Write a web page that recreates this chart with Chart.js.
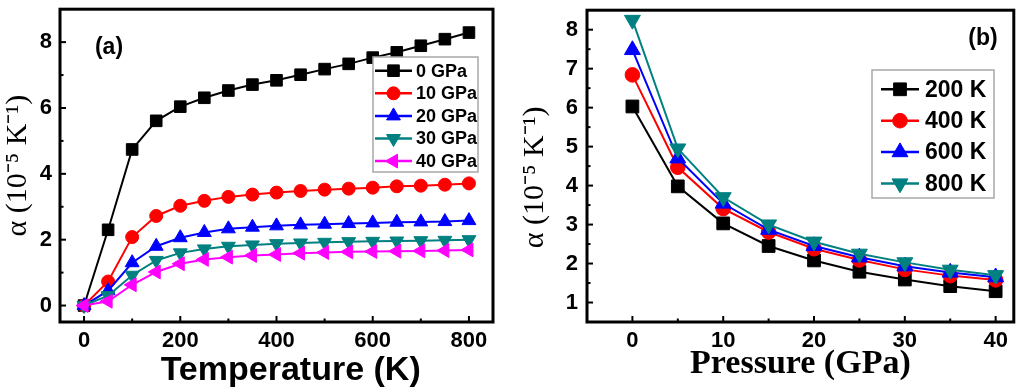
<!DOCTYPE html>
<html><head><meta charset="utf-8">
<script src="https://cdn.jsdelivr.net/npm/chart.js@4/dist/chart.umd.min.js"></script>
<style>
html,body{margin:0;padding:0;background:#fff;}
#wrap{position:relative;width:1024px;height:390px;overflow:hidden;}
canvas{position:absolute;top:0;}
#ca{left:0;} #cb{left:512px;}
</style></head><body>
<div id="wrap"><canvas id="ca" width="512" height="390"></canvas><canvas id="cb" width="512" height="390"></canvas></div>
<script>
// ---------- data: panel (a) ----------
const temperatures = [0,50,100,150,200,250,300,350,400,450,500,550,600,650,700,750,800];
const alpha0GPa  = [0, 2.3, 4.74, 5.61, 6.04, 6.31, 6.53, 6.71, 6.84, 7.01, 7.18, 7.34, 7.53, 7.69, 7.89, 8.09, 8.29];
const alpha10GPa = [0, 0.73, 2.08, 2.72, 3.03, 3.18, 3.30, 3.37, 3.43, 3.48, 3.52, 3.55, 3.58, 3.62, 3.64, 3.67, 3.71];
const alpha20GPa = [0, 0.45, 1.30, 1.80, 2.06, 2.22, 2.33, 2.38, 2.42, 2.45, 2.47, 2.49, 2.51, 2.53, 2.54, 2.55, 2.58];
const alpha30GPa = [0, 0.30, 0.92, 1.37, 1.60, 1.72, 1.80, 1.84, 1.88, 1.90, 1.92, 1.94, 1.95, 1.96, 1.97, 1.98, 2.00];
const alpha40GPa = [0, 0.13, 0.63, 1.02, 1.27, 1.40, 1.47, 1.52, 1.55, 1.59, 1.61, 1.63, 1.64, 1.65, 1.66, 1.67, 1.69];
const seriesLabelsA = ['0 GPa','10 GPa','20 GPa','30 GPa','40 GPa'];
const tempTicks = [0,200,400,600,800];
const tempMinorTicks = [100,300,500,700];
const alphaTicksA = [0,2,4,6,8];
const alphaMinorTicksA = [1,3,5,7];

// ---------- data: panel (b) ----------
const pressures = [0,5,10,15,20,25,30,35,40];
const alpha200K = [6.03, 3.98, 3.03, 2.45, 2.08, 1.79, 1.59, 1.42, 1.29];
const alpha400K = [6.84, 4.47, 3.41, 2.81, 2.38, 2.09, 1.85, 1.69, 1.58];
const alpha600K = [7.48, 4.70, 3.54, 2.87, 2.45, 2.16, 1.93, 1.77, 1.65];
const alpha800K = [8.25, 4.95, 3.70, 3.00, 2.56, 2.25, 2.03, 1.84, 1.70];
const seriesLabelsB = ['200 K','400 K','600 K','800 K'];
const pressureTicks = [0,10,20,30,40];
const pressureMinorTicks = [5,15,25,35];
const alphaTicksB = [1,2,3,4,5,6,7,8];
const alphaMinorTicksB = [1.5,2.5,3.5,4.5,5.5,6.5,7.5];

const yTitle = 'α (10⁻⁵ K⁻¹)';

Chart.defaults.font.family = "'Liberation Sans', Arial, sans-serif";
Chart.defaults.color = '#000';

function marker(ctx, style, rot, r, x, y, color) {
  ctx.save();
  ctx.fillStyle = color; ctx.strokeStyle = color; ctx.lineWidth = 1;
  ctx.beginPath();
  if (style === 'rect') { const s = Math.SQRT1_2 * r; ctx.rect(x - s, y - s, 2 * s, 2 * s); }
  else if (style === 'circle') { ctx.arc(x, y, r, 0, 2 * Math.PI); }
  else {
    let rad = (rot || 0) * Math.PI / 180;
    for (let k = 0; k < 3; k++) {
      const px = x + Math.sin(rad) * r, py = y - Math.cos(rad) * r;
      if (k) ctx.lineTo(px, py); else ctx.moveTo(px, py);
      rad += 2 * Math.PI / 3;
    }
    ctx.closePath();
  }
  ctx.fill(); ctx.stroke(); ctx.restore();
}

const frameTicks = {
  id: 'frameTicks',
  afterDraw(chart, args, o) {
    const {ctx, chartArea: a, scales} = chart;
    ctx.save();
    ctx.strokeStyle = '#000';
    ctx.lineWidth = 2;
    const tick = (scale, vals, len) => {
      vals.forEach(v => {
        const p = scale.getPixelForValue(v);
        ctx.beginPath();
        if (scale.isHorizontal()) { ctx.moveTo(p, a.bottom); ctx.lineTo(p, a.bottom - len); }
        else { ctx.moveTo(a.left, p); ctx.lineTo(a.left + len, p); }
        ctx.stroke();
      });
    };
    tick(scales.x, o.xMajor, 6); tick(scales.x, o.xMinor, 3.5);
    tick(scales.y, o.yMajor, 6); tick(scales.y, o.yMinor, 3.5);
    ctx.lineWidth = 3;
    ctx.strokeRect(a.left, a.top, a.right - a.left, a.bottom - a.top);
    // panel label
    ctx.fillStyle = '#000';
    ctx.font = o.labelFont; ctx.textAlign = 'center'; ctx.textBaseline = 'middle';
    ctx.fillText(o.label, o.labelX, o.labelY);
    // legend
    const L = o.legend;
    ctx.fillStyle = '#fff';
    ctx.fillRect(L.left, L.top, L.width, L.height);
    ctx.strokeStyle = '#a8a8a8'; ctx.lineWidth = 1.5;
    ctx.strokeRect(L.left, L.top, L.width, L.height);
    ctx.font = L.font; ctx.textAlign = 'left'; ctx.textBaseline = 'middle';
    chart.data.datasets.forEach((ds, i) => {
      const y = L.rowY + i * L.rowStep;
      ctx.strokeStyle = ds.borderColor; ctx.lineWidth = 2.5;
      ctx.beginPath(); ctx.moveTo(L.lineX, y); ctx.lineTo(L.lineX + L.lineLen, y); ctx.stroke();
      marker(ctx, ds.pointStyle, ds.pointRotation, ds.pointRadius, L.lineX + L.lineLen / 2, y, ds.borderColor);
      ctx.fillStyle = '#000';
      ctx.fillText(ds.label, L.textX, y + 1);
    });
    ctx.restore();
  }
};

function ds(label, data, color, style, rot, r, order) {
  return { label, data, borderColor: color, backgroundColor: color, pointBackgroundColor: color,
    pointBorderColor: color, pointStyle: style, pointRotation: rot, pointRadius: r, pointHoverRadius: r,
    pointBorderWidth: 1, borderWidth: 2, tension: 0, clip: false, order };
}
const xy = (xs, ys) => xs.map((x, i) => ({x, y: ys[i]}));

function fixY(w) { return s => { s.width = w; s.paddingTop = 0; s.paddingBottom = 0; s.paddingLeft = 0; s.paddingRight = 0; }; }
function fixX(h) { return s => { s.height = h; s.paddingTop = 0; s.paddingBottom = 0; s.paddingLeft = 0; s.paddingRight = 0; }; }
const setTicks = vals => s => { s.ticks = vals.map(v => ({value: v})); };
const noGrid = { display: false, drawTicks: false, tickLength: 0 };

new Chart(document.getElementById('ca'), {
  type: 'line',
  data: { datasets: [
    ds(seriesLabelsA[0], xy(temperatures, alpha0GPa), '#000000', 'rect', 0, 8.2, 5),
    ds(seriesLabelsA[1], xy(temperatures, alpha10GPa), '#ff0000', 'circle', 0, 6.5, 4),
    ds(seriesLabelsA[2], xy(temperatures, alpha20GPa), '#0000ff', 'triangle', 0, 8, 3),
    ds(seriesLabelsA[3], xy(temperatures, alpha30GPa), '#008080', 'triangle', 180, 8, 2),
    ds(seriesLabelsA[4], xy(temperatures, alpha40GPa), '#ff00ff', 'triangle', -90, 8, 1)
  ]},
  options: {
    responsive: false, animation: false, devicePixelRatio: 1,
    layout: { padding: { left: 0, right: 19, top: 3, bottom: 0 } },
    plugins: {
      legend: { display: false }, tooltip: { enabled: false },
      frameTicks: { xMajor: tempTicks, xMinor: tempMinorTicks, yMajor: alphaTicksA, yMinor: alphaMinorTicksA,
        label: '(a)', labelX: 109, labelY: 48, labelFont: "bold 23px 'Liberation Sans', Arial, sans-serif",
        legend: { left: 373, top: 57, width: 105, height: 115, rowY: 70.7, rowStep: 22.6, lineX: 375, lineLen: 37, textX: 416,
          font: "bold 18px 'Liberation Sans', Arial, sans-serif" } }
    },
    scales: {
      x: { type: 'linear', min: -50, max: 850,
        afterBuildTicks: setTicks(tempTicks), afterFit: fixX(68),
        grid: noGrid, border: { display: false },
        ticks: { font: { size: 22, weight: 'bold' }, padding: 6, color: '#000' },
        title: { display: true, text: '\u00A0\u00A0\u00A0Temperature (K)', color: '#000',
          font: { size: 34, weight: 'bold', lineHeight: 1 }, padding: { top: 0, bottom: 2 } } },
      y: { type: 'linear', min: -0.5, max: 9,
        afterBuildTicks: setTicks(alphaTicksA), afterFit: fixY(60),
        grid: noGrid, border: { display: false },
        ticks: { font: { size: 22, weight: 'bold' }, padding: 8, color: '#000' },
        title: { display: true, text: yTitle, color: '#000',
          font: { family: "'Liberation Serif', 'Times New Roman', serif", size: 30, lineHeight: 1 }, padding: { top: 3, bottom: 0 } } }
    }
  },
  plugins: [frameTicks]
});

new Chart(document.getElementById('cb'), {
  type: 'line',
  data: { datasets: [
    ds(seriesLabelsB[0], xy(pressures, alpha200K), '#000000', 'rect', 0, 9, 4),
    ds(seriesLabelsB[1], xy(pressures, alpha400K), '#ff0000', 'circle', 0, 7.3, 3),
    ds(seriesLabelsB[2], xy(pressures, alpha600K), '#0000ff', 'triangle', 0, 9.2, 2),
    ds(seriesLabelsB[3], xy(pressures, alpha800K), '#008080', 'triangle', 180, 9.2, 1)
  ]},
  options: {
    responsive: false, animation: false, devicePixelRatio: 1,
    layout: { padding: { left: 0, right: 3, top: 3, bottom: 0 } },
    plugins: {
      legend: { display: false }, tooltip: { enabled: false },
      frameTicks: { xMajor: pressureTicks, xMinor: pressureMinorTicks, yMajor: alphaTicksB, yMinor: alphaMinorTicksB,
        label: '(b)', labelX: 471, labelY: 39, labelFont: "bold 23px 'Liberation Sans', Arial, sans-serif",
        legend: { left: 360, top: 70, width: 122, height: 128, rowY: 89.3, rowStep: 31.4, lineX: 369, lineLen: 38, textX: 413,
          font: "bold 23px 'Liberation Sans', Arial, sans-serif" } }
    },
    scales: {
      x: { type: 'linear', min: -5, max: 42,
        afterBuildTicks: setTicks(pressureTicks), afterFit: fixX(68),
        grid: noGrid, border: { display: false },
        ticks: { font: { size: 22, weight: 'bold' }, padding: 6, color: '#000' },
        title: { display: true, text: 'Pressure (GPa)', color: '#000',
          font: { family: "'Liberation Serif', 'Times New Roman', serif", size: 34, weight: 'bold', lineHeight: 1 }, padding: { top: 0, bottom: 8.5 } } },
      y: { type: 'linear', min: 0.5, max: 8.5,
        afterBuildTicks: setTicks(alphaTicksB), afterFit: fixY(75),
        grid: noGrid, border: { display: false },
        ticks: { font: { size: 22, weight: 'bold' }, padding: 9, color: '#000' },
        title: { display: true, text: yTitle + '\u00A0\u00A0\u00A0', color: '#000',
          font: { family: "'Liberation Serif', 'Times New Roman', serif", size: 30, lineHeight: 1 }, padding: { top: 8.5, bottom: 0 } } }
    }
  },
  plugins: [frameTicks]
});
</script>
</body></html>
